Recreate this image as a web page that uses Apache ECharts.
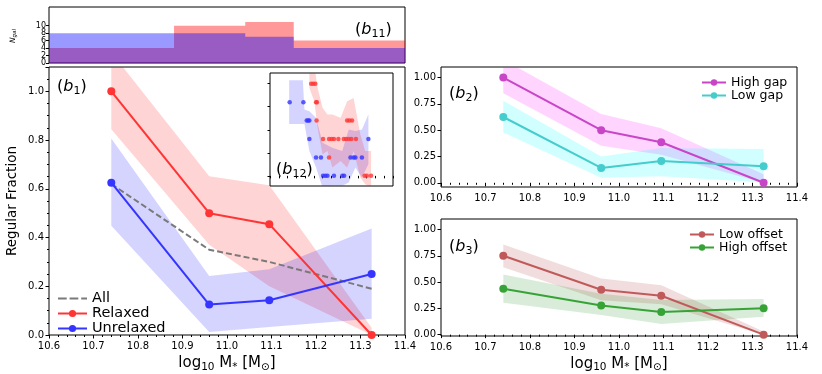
<!DOCTYPE html>
<html>
<head>
<meta charset="utf-8">
<script src="https://cdn.jsdelivr.net/npm/echarts@6/dist/echarts.min.js"></script>
<style>
html, body { margin: 0; padding: 0; background: #fff; }
#main { width: 822px; height: 374px; }
</style>
</head>
<body>
<div id="main"></div>
<script>
// bin centres (log10 M*)
var massBins = [10.74, 10.96, 11.095, 11.325];

// (b1) regular fractions
var allFrac = [0.62, 0.35, 0.30, 0.19];
var relaxedFrac = [1.0, 0.5, 0.455, 0.0];
var relaxedLo = [0.845, 0.37, 0.2, 0.0];
var relaxedHi = [1.16, 0.652, 0.615, 0.03];
var unrelaxedFrac = [0.625, 0.125, 0.143, 0.25];
var unrelaxedLo = [0.448, 0.012, 0.033, 0.067];
var unrelaxedHi = [0.807, 0.242, 0.27, 0.437];

// (b11) galaxy counts per bin
var histEdges = [10.6, 10.881, 11.041, 11.15, 11.4];
var histRelaxed = [4, 10, 11, 6];
var histUnrelaxed = [8, 8, 7, 4];

// (b12) inset points
var insetBlueX = [10.762, 10.840, 10.859, 10.867, 10.874, 10.874, 11.210, 10.912, 10.940, 11.108, 11.126, 11.136, 11.173, 10.952, 10.965, 10.977, 11.014, 11.062, 11.072];
var insetBlueY = [4, 4, 3, 3, 3, 2, 2, 1, 1, 1, 1, 1, 1, 0, 0, 0, 0, 0, 0];
var insetRedX = [10.884, 10.896, 10.908, 10.912, 10.917, 10.915, 11.089, 11.102, 11.117, 10.952, 10.986, 11.001, 11.014, 11.039, 11.070, 11.083, 11.098, 11.113, 11.139, 10.986, 11.188, 11.201, 11.225];
var insetRedY = [5, 5, 5, 4, 4, 3, 3, 3, 3, 2, 2, 2, 2, 2, 2, 2, 2, 2, 2, 1, 0, 0, 0];
var insetBlueBandX = [10.759, 10.837, 10.846, 10.874, 10.912, 10.949, 11.005, 11.061, 11.098, 11.136, 11.173, 11.210];
var insetBlueBandLo = [2.82, 2.82, 2.82, 1.35, 0.45, -0.63, -0.54, -0.54, -0.36, 0.45, -0.09, 0.63];
var insetBlueBandHi = [5.18, 5.18, 3.6, 3.5, 3.15, 1.8, 1.53, 1.35, 2.52, 2.43, 2.52, 3.33];
var insetRedBandX = [10.874, 10.902, 10.921, 10.949, 10.977, 11.005, 11.052, 11.089, 11.126, 11.164, 11.192, 11.225];
var insetRedBandLo = [4.77, 4.05, 2.6, 1.17, 1.35, 0.45, 0.81, 0.45, 1.35, -0.09, -0.45, -0.63];
var insetRedBandHi = [6, 6, 4.77, 3.69, 3.33, 3.33, 3.15, 4.05, 4.23, 2.25, 1.35, 1.35];

// (b2) gap split
var highGapFrac = [1.0, 0.5, 0.385, 0.0];
var highGapLo = [0.85, 0.352, 0.267, 0.0];
var highGapHi = [1.17, 0.654, 0.519, 0.08];
var lowGapFrac = [0.625, 0.141, 0.206, 0.157];
var lowGapLo = [0.477, 0.047, 0.063, 0.003];
var lowGapHi = [0.78, 0.25, 0.33, 0.32];

// (b3) offset split
var lowOffsetFrac = [0.75, 0.427, 0.37, 0.0];
var lowOffsetLo = [0.642, 0.326, 0.29, 0.0];
var lowOffsetHi = [0.857, 0.535, 0.47, 0.03];
var highOffsetFrac = [0.437, 0.278, 0.215, 0.25];
var highOffsetLo = [0.304, 0.186, 0.1, 0.17];
var highOffsetHi = [0.573, 0.39, 0.33, 0.34];

var fracTicks = [0, 0.25, 0.5, 0.75, 1.0];
var countTicksA = [0, 4, 8];
var countTicksB = [2, 6, 10];

var FONT = 'DejaVu Sans';

var chart = echarts.init(document.getElementById('main'));

function pairs(xs, ys) {
    return xs.map(function(x, i) { return [x, ys[i]]; });
}

// 直方图的阶梯数据
function stepData(edges, counts) {
    var d = counts.map(function(c, i) { return [edges[i], c]; });
    d.push([edges[edges.length - 1], counts[counts.length - 1]]);
    return d;
}

// 误差带 (多边形)
function band(xi, xs, lo, hi, color) {
    return {
        type: 'custom',
        xAxisIndex: xi,
        yAxisIndex: xi,
        clip: true,
        silent: true,
        z: 1,
        data: [[xs[0], lo[0]]],
        renderItem: function(params, api) {
            var pts = [];
            for (var i = 0; i < xs.length; i++) pts.push(api.coord([xs[i], hi[i]]));
            for (var j = xs.length - 1; j >= 0; j--) pts.push(api.coord([xs[j], lo[j]]));
            return {
                type: 'polygon',
                shape: { points: pts },
                style: { fill: color }
            };
        }
    };
}

function fracLine(xi, name, ys, color) {
    return {
        type: 'line',
        name: name,
        xAxisIndex: xi,
        yAxisIndex: xi,
        data: pairs(massBins, ys),
        symbol: 'circle',
        symbolSize: 8,
        z: 3,
        itemStyle: { color: color },
        lineStyle: { color: color, width: 2 }
    };
}

function dots(name, xs, ys, color) {
    return {
        type: 'scatter',
        name: name,
        xAxisIndex: 2,
        yAxisIndex: 2,
        data: pairs(xs, ys),
        symbolSize: 4.5,
        z: 3,
        itemStyle: { color: color }
    };
}

function massAxis(grid, withName) {
    var ax = {
        type: 'value',
        gridIndex: grid,
        min: 10.6,
        max: 11.4,
        interval: 0.1,
        axisLine: { show: false },
        axisTick: { show: true, length: 3.5, lineStyle: { color: '#000' } },
        minorTick: { show: true, splitNumber: 5, length: 2, lineStyle: { color: '#000' } },
        splitLine: { show: false },
        axisLabel: {
            margin: 6,
            fontFamily: FONT,
            fontSize: 10,
            color: '#000',
            formatter: function(v) { return v.toFixed(1); }
        }
    };
    if (withName) {
        ax.name = '{a|log}{s|10}{a| M}{t|*}{a| [M}{t|⊙}{a|]}';
        ax.nameLocation = 'middle';
        ax.nameGap = 19;
        ax.nameTextStyle = {
            rich: {
                a: { fontFamily: FONT, fontSize: 15, color: '#000', lineHeight: 18 },
                s: { fontFamily: FONT, fontSize: 10.5, color: '#000', lineHeight: 10, verticalAlign: 'bottom' },
                t: { fontFamily: FONT, fontSize: 10.5, color: '#000', lineHeight: 12, verticalAlign: 'bottom' }
            }
        };
    }
    return ax;
}

function fracAxis(grid, min) {
    return {
        type: 'value',
        gridIndex: grid,
        min: min,
        max: 1.1,
        axisLine: { show: false },
        axisTick: { show: true, length: 3.5, customValues: fracTicks, lineStyle: { color: '#000' } },
        splitLine: { show: false },
        axisLabel: {
            customValues: fracTicks,
            margin: 5,
            fontFamily: FONT,
            fontSize: 10,
            color: '#000',
            formatter: function(v) { return v.toFixed(2); }
        }
    };
}

// 计数轴 (两条叠在一起, 以免标签被隐藏)
function countAxis(ticks) {
    return {
        type: 'value', gridIndex: 0, min: 0, max: 15,
        axisLine: { show: false },
        axisTick: { show: true, length: 3, customValues: ticks, lineStyle: { color: '#000' } },
        axisLabel: {
            customValues: ticks, margin: 3, fontFamily: FONT, fontSize: 8, color: '#000',
            hideOverlap: false, showMinLabel: true, showMaxLabel: true
        },
        splitLine: { show: false }
    };
}

function panelLabel(x, y, sub) {
    return {
        type: 'text',
        x: x,
        y: y,
        z: 10,
        style: {
            text: '{n|(}{i|b}{s|' + sub + '}{n|)}',
            verticalAlign: 'middle',
            rich: {
                n: { fontFamily: FONT, fontSize: 16, fill: '#000', lineHeight: 20 },
                i: { fontFamily: FONT, fontSize: 16, fontStyle: 'italic', fill: '#000', lineHeight: 20 },
                s: { fontFamily: FONT, fontSize: 11, fill: '#000', lineHeight: 12, verticalAlign: 'bottom' }
            }
        }
    };
}

var frame = {
    show: true, borderColor: '#000', borderWidth: 1,
    backgroundColor: 'transparent', containLabel: false, outerBoundsMode: 'none'
};

var option = {
    backgroundColor: '#fff',
    animation: false,
    grid: [
        Object.assign({ left: 49, top: 7, width: 356, height: 56 }, frame),
        Object.assign({ left: 49, top: 67, width: 356, height: 268 }, frame),
        Object.assign({ left: 270, top: 73, width: 123, height: 113 }, frame, { backgroundColor: '#fff' }),
        Object.assign({ left: 441, top: 67, width: 356, height: 120 }, frame),
        Object.assign({ left: 441, top: 219, width: 356, height: 117 }, frame)
    ],
    xAxis: [
        {
            type: 'value', gridIndex: 0, min: 10.6, max: 11.4,
            axisLine: { show: false }, axisTick: { show: false }, axisLabel: { show: false }, splitLine: { show: false }
        },
        massAxis(1, true),
        {
            type: 'value', gridIndex: 2, min: 10.65, max: 11.35, interval: 0.05,
            axisLine: { show: false },
            axisTick: { show: true, length: 2.5, lineStyle: { color: '#000' } },
            axisLabel: { show: false }, splitLine: { show: false }
        },
        massAxis(3, false),
        massAxis(4, true)
    ],
    yAxis: [
        countAxis(countTicksA),
        {
            type: 'value', gridIndex: 1, min: 0, max: 1.1, interval: 0.2,
            axisLine: { show: false },
            axisTick: { show: true, length: 3.5, lineStyle: { color: '#000' } },
            minorTick: { show: true, splitNumber: 4, length: 2, lineStyle: { color: '#000' } },
            splitLine: { show: false },
            axisLabel: {
                margin: 5, fontFamily: FONT, fontSize: 10, color: '#000',
                formatter: function(v) { return v > 1.01 ? '' : v.toFixed(1); }
            },
            name: 'Regular Fraction',
            nameLocation: 'middle',
            nameGap: 30,
            nameTextStyle: { fontFamily: FONT, fontSize: 13.5, color: '#000' }
        },
        {
            type: 'value', gridIndex: 2, min: -0.55, max: 5.58,
            axisLine: { show: false },
            axisTick: { show: true, length: 2.5, customValues: [0, 1.25, 2.5, 3.75, 5], lineStyle: { color: '#000' } },
            axisLabel: { show: false }, splitLine: { show: false }
        },
        fracAxis(3, -0.04),
        fracAxis(4, -0.013),
        Object.assign(countAxis(countTicksB), { position: 'left', offset: 0 })
    ],
    legend: [
        {
            data: [
                { name: 'All', icon: 'path://M0,0H9V2H0Z M12,0H21V2H12Z M24,0H30V2H24Z' },
                'Relaxed',
                'Unrelaxed'
            ],
            orient: 'vertical', left: 57, top: 291,
            itemWidth: 29, itemHeight: 9, itemGap: 0, padding: 0,
            textStyle: { fontFamily: FONT, fontSize: 14.5, color: '#000', lineHeight: 15 }
        },
        {
            data: ['High gap', 'Low gap'],
            orient: 'vertical', left: 701, top: 76,
            itemWidth: 24, itemHeight: 8, itemGap: 0, padding: 0,
            textStyle: { fontFamily: FONT, fontSize: 12.5, color: '#000', lineHeight: 12.5 }
        },
        {
            data: ['Low offset', 'High offset'],
            orient: 'vertical', left: 689, top: 228,
            itemWidth: 24, itemHeight: 8, itemGap: 0, padding: 0,
            textStyle: { fontFamily: FONT, fontSize: 12.5, color: '#000', lineHeight: 12.5 }
        }
    ],
    graphic: [
        panelLabel(57, 87, '1'),
        panelLabel(355, 30, '11'),
        panelLabel(276, 170, '12'),
        panelLabel(449, 94, '2'),
        panelLabel(449, 247, '3'),
        {
            type: 'text',
            x: 13, y: 36, rotation: Math.PI / 2, z: 10,
            style: {
                text: '{i|N}{s|gal}',
                align: 'center', verticalAlign: 'middle',
                rich: {
                    i: { fontFamily: FONT, fontSize: 7.5, fontStyle: 'italic', fill: '#000', lineHeight: 9 },
                    s: { fontFamily: FONT, fontSize: 5.5, fontStyle: 'italic', fill: '#000', lineHeight: 6, verticalAlign: 'bottom' }
                }
            }
        }
    ],
    series: [
        // (b11)
        {
            type: 'line', xAxisIndex: 0, yAxisIndex: 0, step: 'end', symbol: 'none',
            data: stepData(histEdges, histRelaxed),
            lineStyle: { width: 0 }, areaStyle: { color: 'rgba(255,0,0,0.4)', opacity: 1 }
        },
        {
            type: 'line', xAxisIndex: 0, yAxisIndex: 0, step: 'end', symbol: 'none',
            data: stepData(histEdges, histUnrelaxed),
            lineStyle: { width: 0 }, areaStyle: { color: 'rgba(0,0,255,0.4)', opacity: 1 }
        },
        // (b1)
        band(1, massBins, relaxedLo, relaxedHi, 'rgba(255,0,0,0.17)'),
        band(1, massBins, unrelaxedLo, unrelaxedHi, 'rgba(0,0,255,0.17)'),
        {
            type: 'line', name: 'All', xAxisIndex: 1, yAxisIndex: 1,
            data: pairs(massBins, allFrac), symbol: 'none', z: 2,
            itemStyle: { color: '#7a7a7a' },
            lineStyle: { color: '#7a7a7a', width: 2, type: [6, 3] }
        },
        fracLine(1, 'Relaxed', relaxedFrac, '#ff3535'),
        fracLine(1, 'Unrelaxed', unrelaxedFrac, '#3535ff'),
        // (b12)
        band(2, insetBlueBandX, insetBlueBandLo, insetBlueBandHi, 'rgba(0,0,255,0.17)'),
        band(2, insetRedBandX, insetRedBandLo, insetRedBandHi, 'rgba(255,0,0,0.17)'),
        dots('inset unrelaxed', insetBlueX, insetBlueY, '#3535ff'),
        dots('inset relaxed', insetRedX, insetRedY, '#ff3535'),
        // (b2)
        band(3, massBins, highGapLo, highGapHi, 'rgba(255,0,255,0.17)'),
        band(3, massBins, lowGapLo, lowGapHi, 'rgba(0,255,255,0.18)'),
        fracLine(3, 'High gap', highGapFrac, '#c845c8'),
        fracLine(3, 'Low gap', lowGapFrac, '#45cccc'),
        // (b3)
        band(4, massBins, lowOffsetLo, lowOffsetHi, 'rgba(165,42,42,0.16)'),
        band(4, massBins, highOffsetLo, highOffsetHi, 'rgba(0,128,0,0.15)'),
        fracLine(4, 'Low offset', lowOffsetFrac, '#c05a5a'),
        fracLine(4, 'High offset', highOffsetFrac, '#37a337')
    ]
};

chart.setOption(option);
</script>
</body>
</html>
